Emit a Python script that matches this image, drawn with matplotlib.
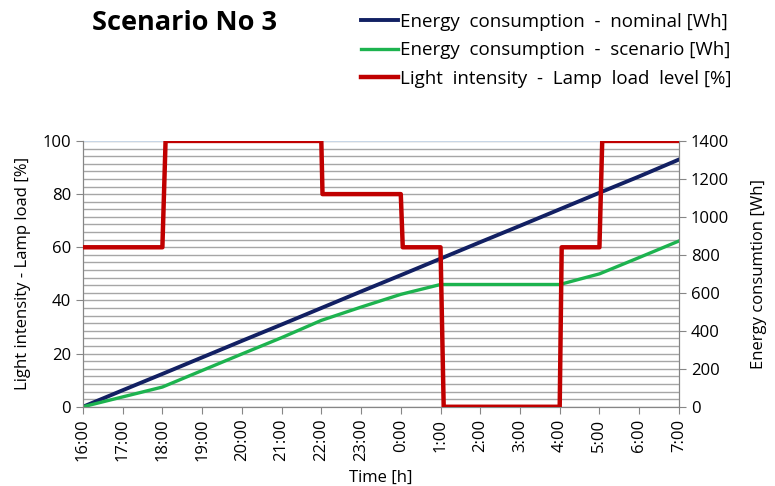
import numpy as np
import matplotlib.pyplot as plt
from matplotlib.ticker import MultipleLocator

# hours after 16:00
hours = list(range(16))
hour_labels = ['16:00', '17:00', '18:00', '19:00', '20:00', '21:00', '22:00', '23:00',
               '0:00', '1:00', '2:00', '3:00', '4:00', '5:00', '6:00', '7:00']

# energy consumption [Wh], read hourly
energy_nominal = [0, 87, 173, 260, 347, 433, 520, 607, 693, 780, 867, 953, 1040, 1127, 1213, 1302]
energy_scenario = [0, 52, 104, 191, 278, 364, 455, 525, 592, 644, 644, 644, 644, 700, 786, 873]

# lamp load level [%], switching points
load_t = [0, 2.0, 2.08, 6.0, 6.03, 8.0, 8.05, 9.0, 9.08, 12.0, 12.05, 13.0, 13.07, 15]
load_pct = [60, 60, 100, 100, 80, 80, 60, 60, 0, 0, 60, 60, 100, 100]

plt.rcParams['font.family'] = ['Open Sans', 'DejaVu Sans']

fig = plt.figure(figsize=(7.75, 4.86), dpi=100)
ax = fig.add_axes([0.107, 0.163, 0.769, 0.547])
ax2 = ax.twinx()

grid_col = '#a6a6a6'
ax2.set_ylim(0, 1400)
ax2.yaxis.set_major_locator(MultipleLocator(200))
ax2.yaxis.set_minor_locator(MultipleLocator(40))
ax2.grid(True, which='both', axis='y', color=grid_col, lw=1.0)
ax2.set_axisbelow(True)
ax2.axhline(1400, color='#cfe0f3', lw=1.2, zorder=1)

l_nom, = ax2.plot(hours, energy_nominal, color='#122063', lw=2.8,
                  label='Energy  consumption  -  nominal [Wh]')
l_sc, = ax2.plot(hours, energy_scenario, color='#1db34f', lw=2.4,
                 label='Energy  consumption  -  scenario [Wh]')
l_red, = ax2.plot(load_t, [v * 14 for v in load_pct], color='#c00000', lw=3.2,
                  label='Light  intensity  -  Lamp  load  level [%]', zorder=5)

ax.set_ylim(0, 100)
ax.set_xlim(0, 15)
ax.yaxis.set_major_locator(MultipleLocator(20))
ax.set_xticks(hours)
ax.set_xticklabels(hour_labels, rotation=90)

for a in (ax, ax2):
    for s in a.spines.values():
        s.set_color('#868686')
    a.spines['top'].set_visible(False)
    a.tick_params(which='major', direction='out', length=5, color='#868686',
                  labelsize=12, colors='#868686', labelcolor='black')
    a.tick_params(which='minor', length=0)

ax.set_ylabel('Light intensity - Lamp load [%]', fontsize=12, labelpad=8)
ax2.set_ylabel('Energy consumtion [Wh]', fontsize=12, labelpad=16)
ax.set_xlabel('Time [h]', fontsize=12, labelpad=6)

fig.text(0.119, 0.952, 'Scenario No 3', fontsize=19.5, fontweight='bold', va='center')
fig.legend(handles=[l_nom, l_sc, l_red], loc='upper left', bbox_to_anchor=(0.444, 1.008),
           frameon=False, fontsize=13.5, handlelength=2.0, handletextpad=0.1,
           labelspacing=0.55)

fig.savefig('out.png', dpi=100)
